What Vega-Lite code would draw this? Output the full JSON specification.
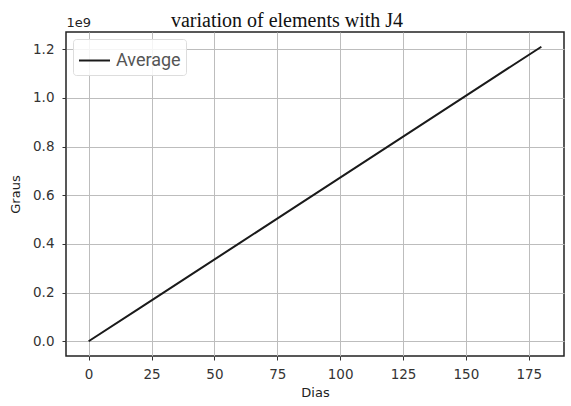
{
  "$schema": "https://vega.github.io/schema/vega-lite/v6.json",
  "width": 498,
  "height": 324,
  "autosize": {"type": "none"},
  "padding": {"left": 66, "top": 32, "right": 7, "bottom": 50},
  "background": "white",
  "title": {
    "text": "variation of elements with J4",
    "font": "Liberation Serif",
    "fontSize": 20,
    "fontWeight": "normal",
    "color": "#111111",
    "anchor": "middle",
    "dx": -28,
    "offset": -15
  },
  "config": {
    "view": {"stroke": "#222222", "strokeWidth": 1.5},
    "axis": {
      "labelFont": "DejaVu Sans",
      "labelFontSize": 13.5,
      "labelColor": "#333333",
      "titleFont": "DejaVu Sans",
      "titleFontSize": 13,
      "titleFontWeight": "normal",
      "titleColor": "#222222",
      "gridColor": "#bdbdbd",
      "gridWidth": 1,
      "tickColor": "#333333",
      "tickSize": 4,
      "domain": false
    }
  },
  "data": {
    "values": [
      {"dia": 0, "graus": 0, "serie": "Average"},
      {"dia": 20, "graus": 134000000, "serie": "Average"},
      {"dia": 40, "graus": 269000000, "serie": "Average"},
      {"dia": 60, "graus": 403000000, "serie": "Average"},
      {"dia": 80, "graus": 538000000, "serie": "Average"},
      {"dia": 100, "graus": 672000000, "serie": "Average"},
      {"dia": 120, "graus": 807000000, "serie": "Average"},
      {"dia": 140, "graus": 941000000, "serie": "Average"},
      {"dia": 160, "graus": 1076000000, "serie": "Average"},
      {"dia": 180, "graus": 1210000000, "serie": "Average"}
    ]
  },
  "layer": [
    {
      "mark": {"type": "line", "strokeWidth": 2, "clip": true},
      "encoding": {
        "x": {
          "field": "dia",
          "type": "quantitative",
          "scale": {"domain": [-9, 189], "nice": false, "zero": false},
          "axis": {
            "orient": "bottom",
            "title": "Dias",
            "values": [0, 25, 50, 75, 100, 125, 150, 175],
            "labelPadding": 7,
            "titlePadding": 6
          }
        },
        "y": {
          "field": "graus",
          "type": "quantitative",
          "scale": {"domain": [-60500000, 1270500000], "nice": false, "zero": false},
          "axis": {
            "title": "Graus",
            "values": [0, 200000000, 400000000, 600000000, 800000000, 1000000000, 1200000000],
            "labelExpr": "format(datum.value / 1e9, '.1f')",
            "labelPadding": 8,
            "titlePadding": 10
          }
        },
        "color": {
          "field": "serie",
          "type": "nominal",
          "scale": {"range": ["#1a1a1a"]},
          "legend": {
            "title": null,
            "orient": "top-left",
            "offset": 7,
            "padding": 5,
            "symbolType": "stroke",
            "symbolSize": 961,
            "symbolStrokeWidth": 2,
            "labelFont": "Roboto",
            "labelFontSize": 18,
            "labelColor": "#555555",
            "labelOffset": 5,
            "fillColor": "rgba(255,255,255,0.85)",
            "strokeColor": "#dddddd",
            "cornerRadius": 3
          }
        }
      }
    },
    {
      "mark": {"type": "point", "opacity": 0},
      "encoding": {
        "x": {
          "field": "dia",
          "type": "quantitative",
          "axis": {
            "orient": "top",
            "labels": false,
            "ticks": false,
            "grid": false,
            "domain": false,
            "title": "1e9",
            "titleAnchor": "start",
            "titleAlign": "left",
            "titleFontSize": 13,
            "titlePadding": 3
          }
        }
      }
    }
  ],
  "resolve": {"axis": {"x": "independent"}}
}
